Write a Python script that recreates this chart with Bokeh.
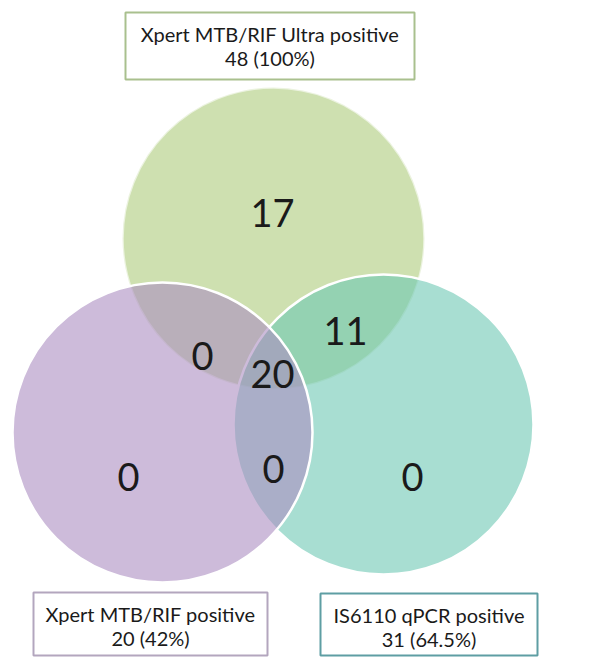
from bokeh.plotting import figure
from bokeh.models import Range1d
from bokeh.core.properties import value
from bokeh.embed import file_html
from bokeh.resources import INLINE

# ---- data ----
set_names = ["Xpert MTB/RIF Ultra positive", "Xpert MTB/RIF positive", "IS6110 qPCR positive"]
set_totals = ["48 (100%)", "20 (42%)", "31 (64.5%)"]
region_names = ["Ultra only", "Ultra & Xpert", "Ultra & qPCR", "All three", "Xpert only", "Xpert & qPCR", "qPCR only"]
region_counts = [17, 0, 11, 20, 0, 0, 0]

# ---- layout (reference pixel coordinates) ----
circ_x = [273, 383, 162]          # green (Ultra), teal (qPCR), purple (Xpert)
circ_y = [238, 424, 432]
circ_r = [151, 150, 150]
circ_fill = ["#CEE0B0", "#6EC8B4", "#AC8EC1"]
circ_alpha = [1.0, 0.6, 0.6]

reg_x = [272, 202, 345, 272, 128, 273, 412]
reg_y = [212, 355, 330, 373, 476, 468, 476]

box_l = [125, 33, 320]
box_r = [414, 267, 537]
box_t = [12, 592, 593]
box_b = [79, 655, 655]
box_col = ["#A9C08E", "#B3A6BE", "#5E9EA3"]

W, H = 606, 658
p = figure(width=W, height=H, x_range=Range1d(0, W), y_range=Range1d(H, 0),
           output_backend="svg", toolbar_location=None, min_border=0,
           outline_line_color=None, background_fill_color="white", border_fill_color="white")
p.axis.visible = False
p.grid.visible = False

for i in range(3):
    p.circle(x=[circ_x[i]], y=[circ_y[i]], radius=circ_r[i],
             fill_color=circ_fill[i], fill_alpha=circ_alpha[i],
             line_color="white", line_width=2.5, line_alpha=1.0 if i else 0.6)

p.text(x=reg_x, y=reg_y, text=[str(c) for c in region_counts],
       text_font=value("Lato"), text_font_size="38px", text_color="#1a1a1a",
       text_align="center", text_baseline="middle")

p.quad(left=box_l, right=box_r, top=box_t, bottom=box_b, fill_color="white",
       line_color=box_col, line_width=2)

cx = [(l + r) / 2 for l, r in zip(box_l, box_r)]
l1 = [t + 21 for t in box_t]
l2 = [t + 45 for t in box_t]
p.text(x=cx, y=l1, text=set_names, text_font=value("Lato"), text_font_size="20px",
       text_color="#1a1a1a", text_align="center", text_baseline="middle")
p.text(x=cx, y=l2, text=set_totals, text_font=value("Lato"), text_font_size="20px",
       text_color="#1a1a1a", text_align="center", text_baseline="middle")

open("out.html", "w").write(file_html(p, INLINE))
